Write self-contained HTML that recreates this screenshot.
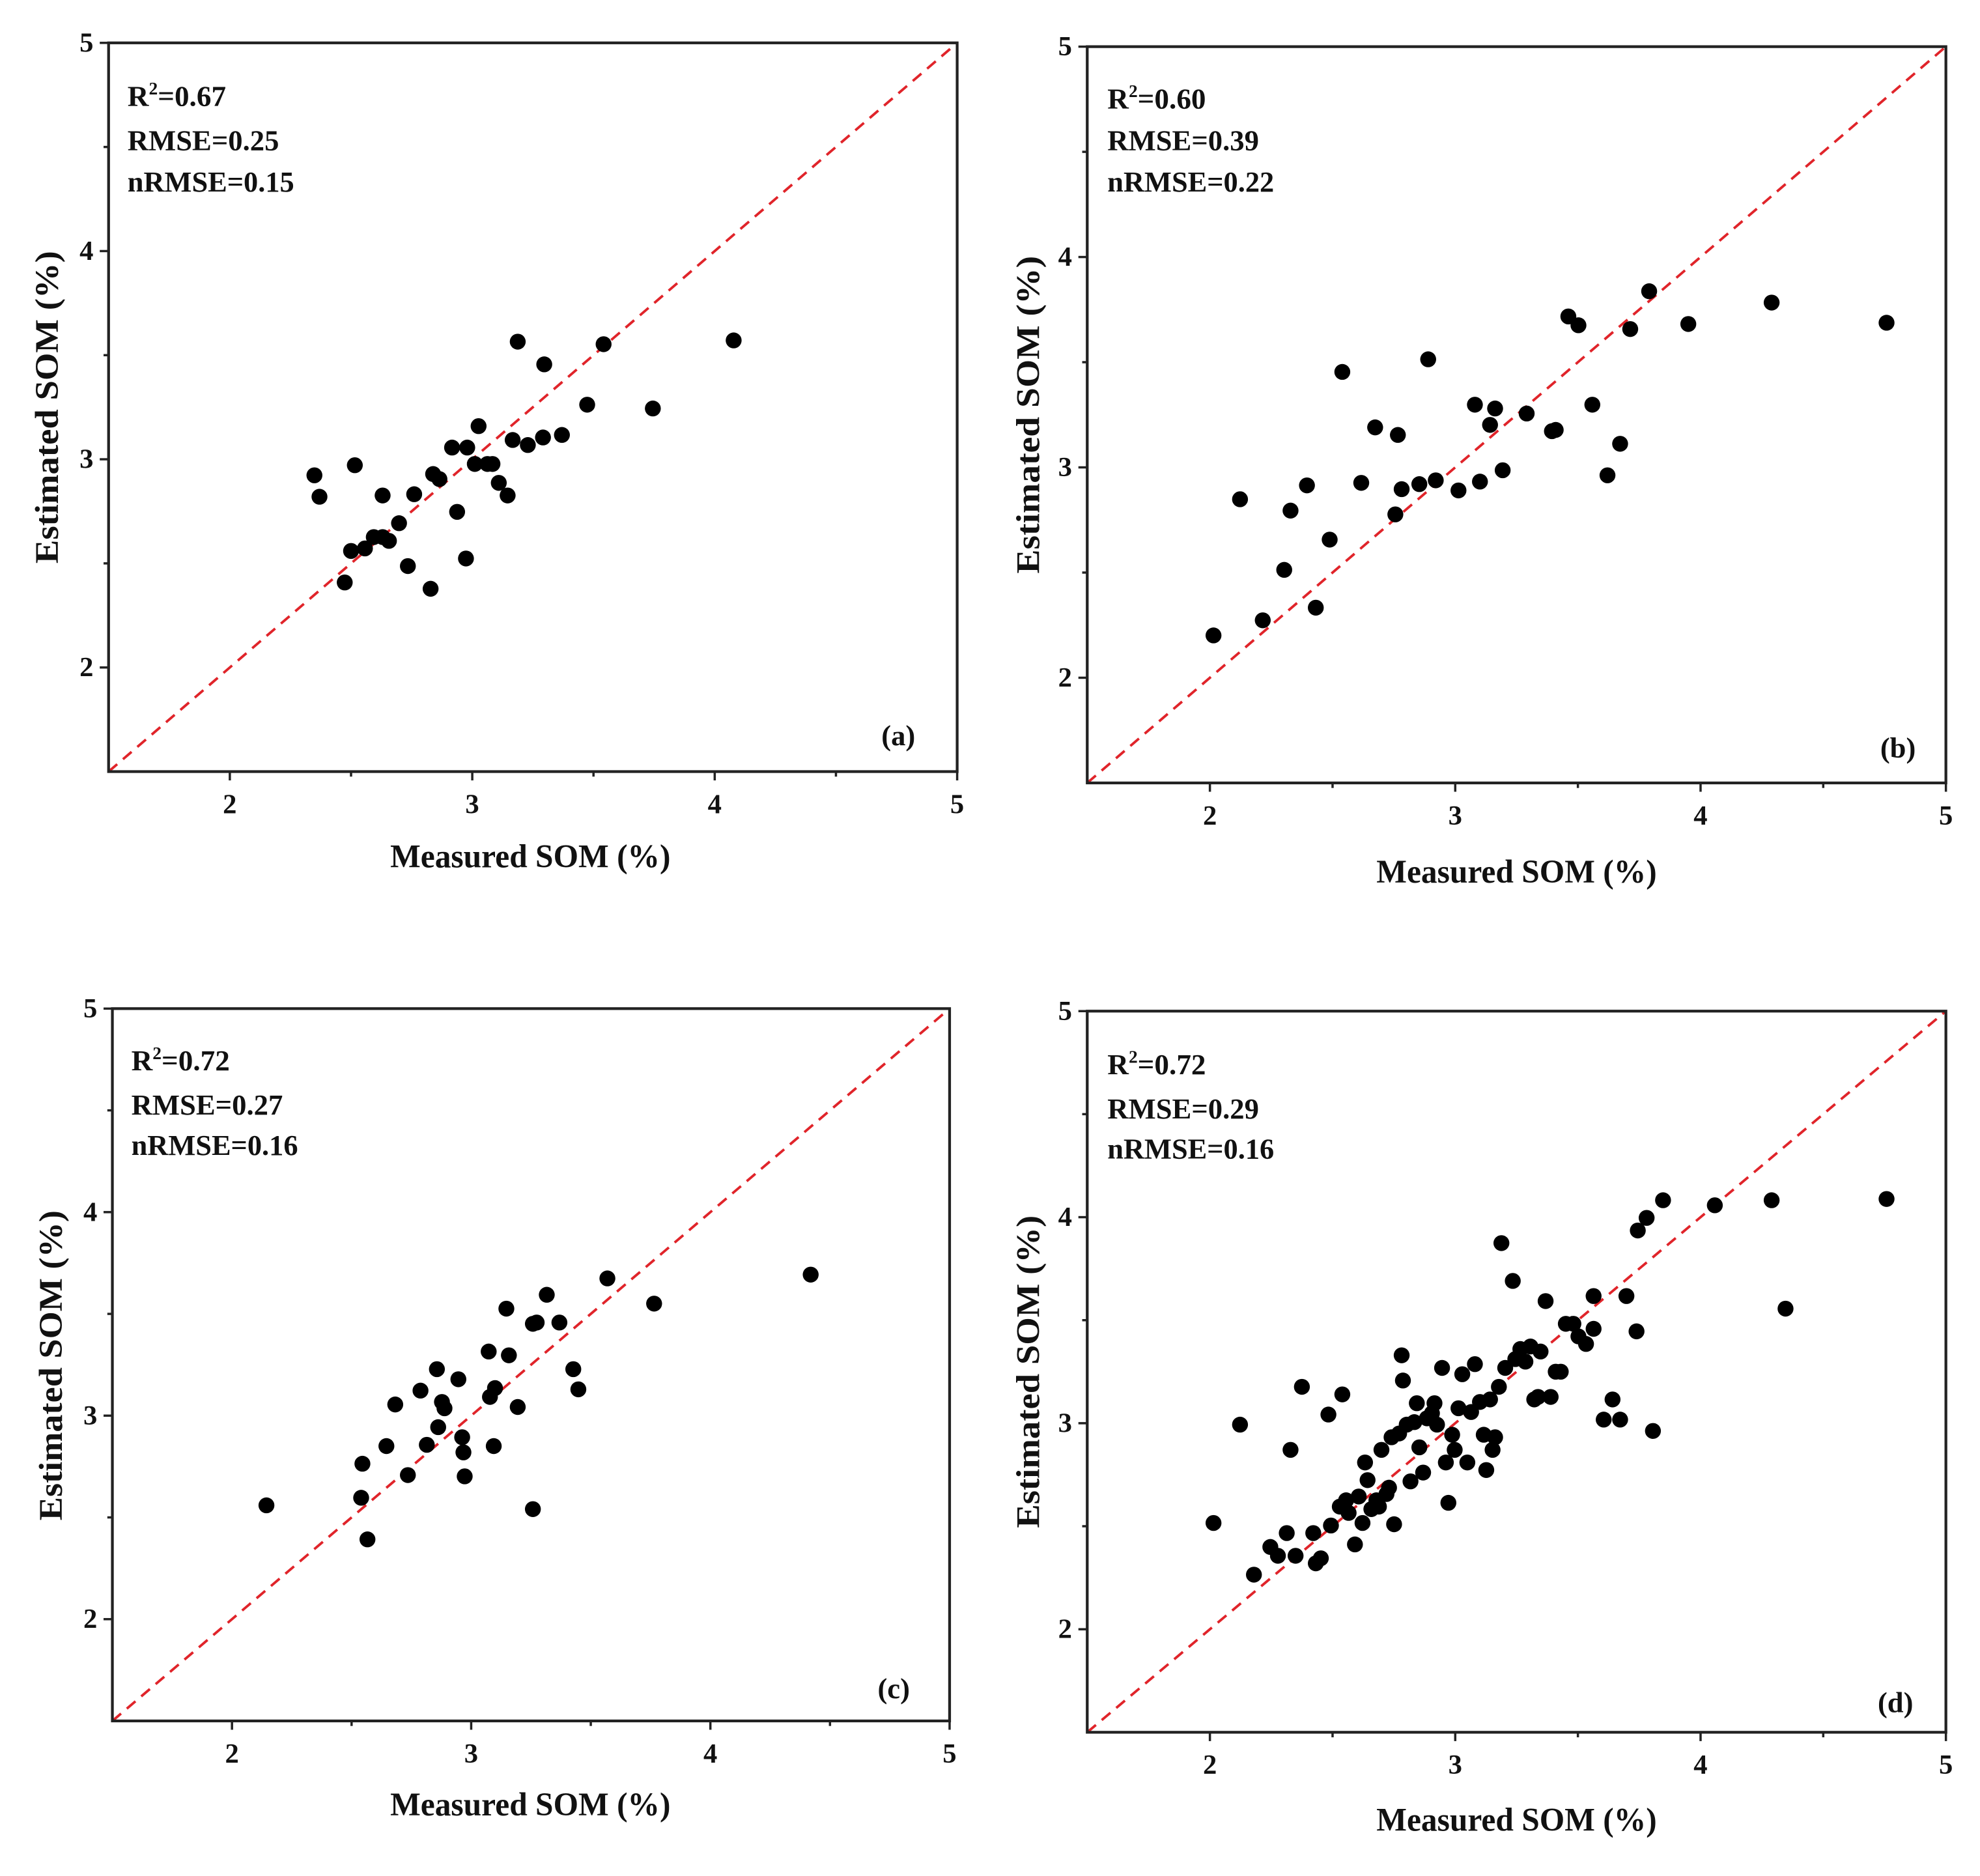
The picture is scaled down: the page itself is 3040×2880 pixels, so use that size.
<!DOCTYPE html>
<html><head><meta charset="utf-8"><style>
html,body{margin:0;padding:0;background:#fff;}
svg{display:block;}
text{font-family:"Liberation Serif",serif;font-weight:bold;fill:#111;}
</style></head><body>
<svg id="s" width="3040" height="2880" viewBox="0 0 1568 1488" preserveAspectRatio="none" xmlns="http://www.w3.org/2000/svg">
<rect width="1568" height="1488" fill="#fff"/>
<g id="g"></g>
<text x="101" y="84" font-size="23" textLength="78" lengthAdjust="spacingAndGlyphs">R<tspan font-size="14" dy="-9">2</tspan><tspan dy="9">=0.67</tspan></text>
<text x="101" y="119" font-size="23" textLength="120" lengthAdjust="spacingAndGlyphs">RMSE=0.25</text>
<text x="101" y="152" font-size="23" textLength="132" lengthAdjust="spacingAndGlyphs">nRMSE=0.15</text>
<text x="698" y="591" font-size="23">(a)</text>
<text x="420" y="688" font-size="26" text-anchor="middle" textLength="222" lengthAdjust="spacingAndGlyphs">Measured SOM (%)</text>
<text transform="translate(46,323) rotate(-90)" font-size="26" text-anchor="middle" textLength="248" lengthAdjust="spacingAndGlyphs">Estimated SOM (%)</text>
<text x="877" y="86" font-size="23" textLength="78" lengthAdjust="spacingAndGlyphs">R<tspan font-size="14" dy="-9">2</tspan><tspan dy="9">=0.60</tspan></text>
<text x="877" y="119" font-size="23" textLength="120" lengthAdjust="spacingAndGlyphs">RMSE=0.39</text>
<text x="877" y="152" font-size="23" textLength="132" lengthAdjust="spacingAndGlyphs">nRMSE=0.22</text>
<text x="1489" y="601" font-size="23">(b)</text>
<text x="1201" y="700" font-size="26" text-anchor="middle" textLength="222" lengthAdjust="spacingAndGlyphs">Measured SOM (%)</text>
<text transform="translate(823,329) rotate(-90)" font-size="26" text-anchor="middle" textLength="252" lengthAdjust="spacingAndGlyphs">Estimated SOM (%)</text>
<text x="104" y="849" font-size="23" textLength="78" lengthAdjust="spacingAndGlyphs">R<tspan font-size="14" dy="-9">2</tspan><tspan dy="9">=0.72</tspan></text>
<text x="104" y="884" font-size="23" textLength="120" lengthAdjust="spacingAndGlyphs">RMSE=0.27</text>
<text x="104" y="916" font-size="23" textLength="132" lengthAdjust="spacingAndGlyphs">nRMSE=0.16</text>
<text x="695" y="1347" font-size="23">(c)</text>
<text x="420" y="1440" font-size="26" text-anchor="middle" textLength="222" lengthAdjust="spacingAndGlyphs">Measured SOM (%)</text>
<text transform="translate(49,1083) rotate(-90)" font-size="26" text-anchor="middle" textLength="246" lengthAdjust="spacingAndGlyphs">Estimated SOM (%)</text>
<text x="877" y="852" font-size="23" textLength="78" lengthAdjust="spacingAndGlyphs">R<tspan font-size="14" dy="-9">2</tspan><tspan dy="9">=0.72</tspan></text>
<text x="877" y="887" font-size="23" textLength="120" lengthAdjust="spacingAndGlyphs">RMSE=0.29</text>
<text x="877" y="919" font-size="23" textLength="132" lengthAdjust="spacingAndGlyphs">nRMSE=0.16</text>
<text x="1487" y="1358" font-size="23">(d)</text>
<text x="1201" y="1452" font-size="26" text-anchor="middle" textLength="222" lengthAdjust="spacingAndGlyphs">Measured SOM (%)</text>
<text transform="translate(823,1088) rotate(-90)" font-size="26" text-anchor="middle" textLength="248" lengthAdjust="spacingAndGlyphs">Estimated SOM (%)</text>
</svg>
<script>
var NS="http://www.w3.org/2000/svg";
var g=document.getElementById('g');
function el(t,a,p){var e=document.createElementNS(NS,t);for(var k in a)e.setAttribute(k,a[k]);(p||g).appendChild(e);return e;}
var P=[
 {x0:86,x1:758,y0:34,y1:612,pts:[[249,377],[253,394],[281,369],[278,437],[273,462],[289,435],[296,426],[303,426],[308,429],[303,393],[316,415],[323,449],[328,392],[341,467],[343,376],[348,380],[358,355],[362,406],[369,443],[370,355],[376,368],[379,338],[386,368],[390,368],[395,383],[402,393],[406,349],[410,271],[418,353],[430,347],[431,289],[445,345],[465,321],[478,273],[517,324],[581,270]]},
 {x0:861,x1:1541,y0:37,y1:621,pts:[[961,504],[982,396],[1000,492],[1017,452],[1022,405],[1035,385],[1042,482],[1053,428],[1063,295],[1078,383],[1089,339],[1107,345],[1105,408],[1110,388],[1124,384],[1131,285],[1137,381],[1155,389],[1168,321],[1172,382],[1180,337],[1184,324],[1190,373],[1209,328],[1229,342],[1232,341],[1242,251],[1250,258],[1261,321],[1273,377],[1283,352],[1291,261],[1306,231],[1337,257],[1403,240],[1494,256]]},
 {x0:89,x1:752,y0:800,y1:1365,pts:[[211,1194],[286,1188],[287,1161],[291,1221],[306,1147],[313,1114],[323,1170],[333,1103],[338,1146],[346,1086],[347,1132],[350,1112],[352,1117],[363,1094],[366,1140],[367,1152],[368,1171],[387,1072],[388,1108],[391,1147],[392,1101],[401,1038],[403,1075],[410,1116],[422,1050],[422,1197],[425,1049],[433,1027],[443,1049],[454,1086],[458,1102],[481,1014],[518,1034],[642,1011]]},
 {x0:861,x1:1541,y0:802,y1:1374,pts:[[961,1208],[982,1130],[993,1249],[1006,1227],[1012,1234],[1019,1216],[1022,1150],[1026,1234],[1031,1100],[1040,1216],[1042,1240],[1046,1236],[1052,1122],[1054,1210],[1061,1195],[1063,1106],[1066,1190],[1068,1200],[1073,1225],[1076,1187],[1079,1208],[1081,1160],[1083,1174],[1086,1197],[1090,1190],[1092,1195],[1094,1150],[1098,1185],[1100,1180],[1102,1140],[1104,1209],[1108,1137],[1110,1075],[1111,1095],[1114,1130],[1117,1175],[1120,1128],[1122,1113],[1124,1148],[1127,1168],[1130,1125],[1134,1121],[1136,1113],[1138,1130],[1142,1085],[1145,1160],[1147,1192],[1150,1138],[1152,1150],[1155,1117],[1158,1090],[1162,1160],[1165,1120],[1168,1082],[1172,1112],[1175,1138],[1177,1166],[1180,1110],[1182,1150],[1184,1140],[1187,1100],[1189,986],[1192,1085],[1198,1016],[1200,1078],[1204,1070],[1208,1080],[1212,1068],[1215,1110],[1218,1108],[1220,1072],[1224,1032],[1228,1108],[1232,1088],[1236,1088],[1240,1050],[1246,1050],[1250,1060],[1256,1066],[1262,1054],[1262,1028],[1270,1126],[1277,1110],[1283,1126],[1288,1028],[1296,1056],[1297,976],[1304,966],[1317,952],[1358,956],[1403,952],[1414,1038],[1494,951],[1309,1135]]}
];
P.forEach(function(p){
  var sx=(p.x1-p.x0)/3.5, sy=(p.y1-p.y0)/3.5;
  el('line',{x1:p.x0,y1:p.y1,x2:p.x1,y2:p.y0,stroke:'#e0242a','stroke-width':2,'stroke-dasharray':'9,6'});
  el('rect',{x:p.x0,y:p.y0,width:p.x1-p.x0,height:p.y1-p.y0,fill:'none',stroke:'#222','stroke-width':2.2});
  for(var v=2;v<=5;v+=0.5){
    var x=p.x0+(v-1.5)*sx, y=p.y1-(v-1.5)*sy, maj=(v%1===0);
    var L=maj?7:4;
    el('line',{x1:x,y1:p.y1,x2:x,y2:p.y1+L,stroke:'#222','stroke-width':1.8});
    el('line',{x1:p.x0,y1:y,x2:p.x0-L,y2:y,stroke:'#222','stroke-width':1.8});
    if(maj){
      var t=el('text',{x:x,y:p.y1+33,'font-size':22,'text-anchor':'middle'});t.textContent=v;
      var t2=el('text',{x:p.x0-12,y:y+7,'font-size':22,'text-anchor':'end'});t2.textContent=v;
    }
  }
  p.pts.forEach(function(q){el('circle',{cx:q[0],cy:q[1],r:6.3,fill:'#000'});});
});
</script>
</body></html>
